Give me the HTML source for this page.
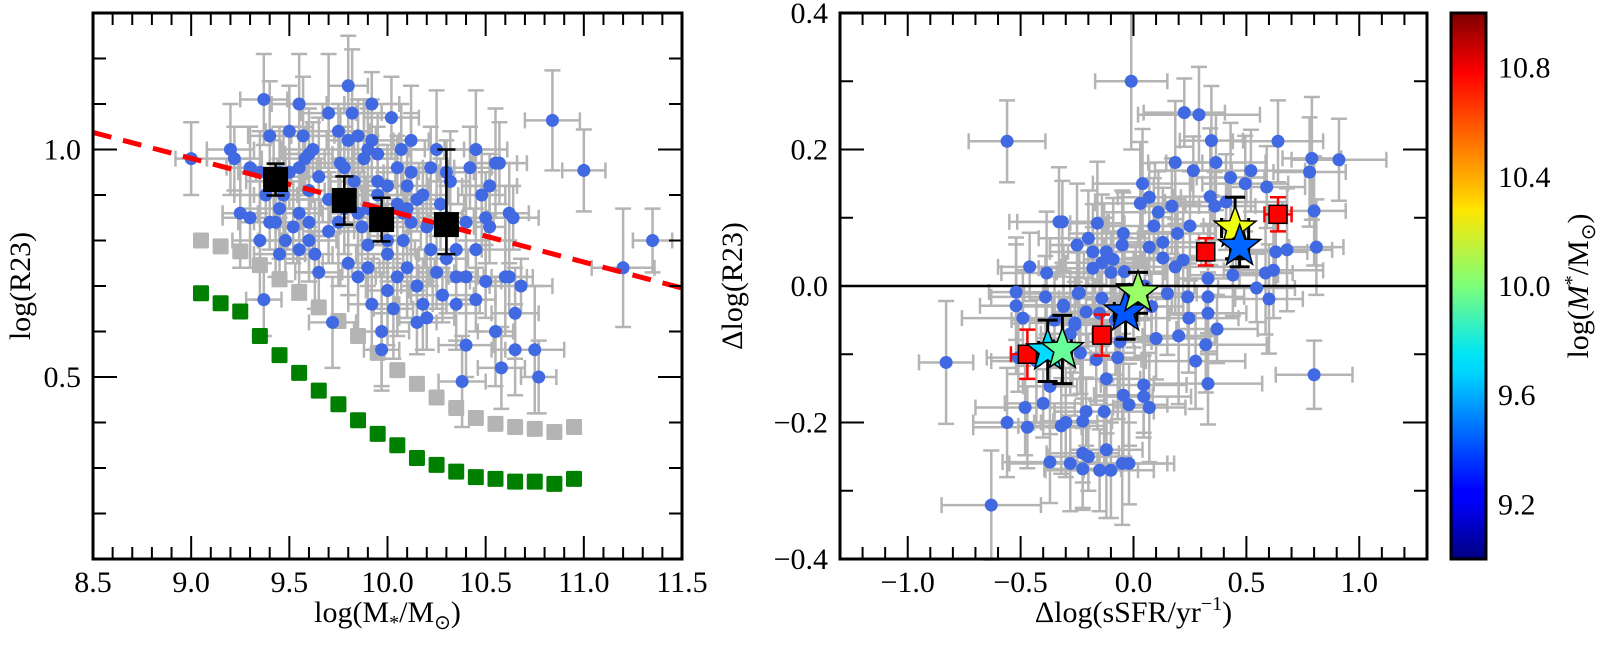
<!DOCTYPE html>
<html><head><meta charset="utf-8"><style>
html,body{margin:0;padding:0;background:#fff;}
svg{display:block;font-family:"Liberation Serif",serif;}
</style></head><body>
<svg id="fig" width="1600" height="651" viewBox="0 0 1600 651" xmlns="http://www.w3.org/2000/svg">
<defs>
<linearGradient id="jet" x1="0" y1="1" x2="0" y2="0">
<stop offset="0" stop-color="#00007f"/><stop offset="0.11" stop-color="#0000ff"/><stop offset="0.125" stop-color="#0000ff"/>
<stop offset="0.34" stop-color="#00d4ff"/><stop offset="0.375" stop-color="#00e5f5"/><stop offset="0.5" stop-color="#7dff7a"/>
<stop offset="0.64" stop-color="#ffe600"/><stop offset="0.66" stop-color="#ffd000"/><stop offset="0.89" stop-color="#ff0000"/><stop offset="1" stop-color="#7f0000"/>
</linearGradient>
</defs>
<g id="left"></g>
<g id="right"></g>
<g id="cbar"></g>
</svg>
<script>
// ---------- LEFT PANEL DATA ----------
const leftMass = [9.0,9.2,9.22,9.25,9.3,9.35,9.37,9.37,9.38,9.4,9.42,9.45,9.45,9.47,9.5,9.52,9.55,9.55,9.57,9.58,9.6,9.55,9.6,9.63,9.65,9.65,9.7,9.72,9.75,9.76,9.78,9.8,9.8,9.82,9.83,9.85,9.85,9.87,9.88,9.9,9.9,9.92,9.92,9.95,9.95,9.97,9.97,9.98,10.0,10.0,10.02,10.03,10.05,10.05,10.07,10.08,10.1,10.1,10.12,10.15,10.15,10.18,10.2,10.2,10.22,10.25,10.25,10.27,10.28,10.3,10.3,10.32,10.35,10.35,10.38,10.4,10.4,10.42,10.45,10.45,10.5,10.5,10.52,10.55,10.58,10.6,10.62,10.65,10.68,10.55,10.57,10.62,10.64,10.75,10.65,10.77,10.84,11.0,11.2,11.35,10.52,10.48,10.3,10.12,9.9,9.7,9.5,9.45,9.4,9.43,9.48,9.55,9.7,9.75,9.78,9.8,9.95,10.0,10.05,10.15,10.22,10.35,10.4,9.85,9.9,10.12,10.3,9.6,9.62,9.8,9.92,10.08,10.18,10.45,10.1,10.0,9.3,9.35,9.6];
const leftR23 = [0.98,1.0,0.98,0.86,0.96,0.8,0.67,1.11,0.9,1.03,0.93,0.87,0.77,0.9,1.04,0.83,1.1,0.96,1.03,0.98,0.91,0.86,0.8,0.77,0.73,0.94,0.89,0.62,1.04,0.97,0.96,1.14,0.75,1.08,0.93,1.03,0.86,0.83,0.98,0.87,0.74,0.66,1.1,0.93,0.99,0.6,0.56,0.85,0.77,0.69,1.07,0.65,0.96,0.88,1.0,0.8,0.74,0.92,0.84,0.89,0.7,0.66,0.63,0.83,0.96,1.0,0.73,0.88,0.68,0.76,0.85,0.93,0.78,0.72,0.49,0.72,0.84,0.96,1.0,0.67,0.71,0.85,0.92,0.6,0.52,0.72,0.72,0.64,0.7,0.97,0.97,0.86,0.85,0.56,0.56,0.5,1.064,0.954,0.74,0.8,0.83,0.9,0.95,1.02,1.0,1.08,0.95,0.95,0.84,0.84,0.8,0.78,0.82,0.84,0.87,0.9,0.9,0.92,0.72,0.62,0.78,0.66,0.57,0.72,0.79,0.95,0.84,0.99,1.0,1.02,1.02,0.86,0.9,0.78,0.87,0.8,0.85,0.95,0.84];
const leftXErr = [0.08,0.12,0.14,0.09,0.12,0.14,0.09,0.12,0.16,0.11,0.14,0.1,0.13,0.15,0.12,0.09,0.14,0.11,0.16,0.1];
const leftYErr = [0.08,0.1,0.07,0.12,0.09,0.13,0.08,0.1,0.06,0.12,0.09,0.11,0.07,0.14,0.1,0.08,0.11,0.09,0.13,0.07];
const greyMass = [9.05,9.15,9.25,9.35,9.45,9.55,9.65,9.75,9.85,9.95,10.05,10.15,10.25,10.35,10.45,10.55,10.65,10.75,10.85,10.95];
const greyR23 = [0.80,0.787,0.776,0.746,0.715,0.687,0.653,0.623,0.59,0.553,0.515,0.485,0.455,0.432,0.41,0.397,0.39,0.386,0.379,0.39];
const greenMass = [9.05,9.15,9.25,9.35,9.45,9.55,9.65,9.75,9.85,9.95,10.05,10.15,10.25,10.35,10.45,10.55,10.65,10.75,10.85,10.95];
const greenR23 = [0.684,0.662,0.644,0.59,0.548,0.509,0.47,0.44,0.405,0.375,0.35,0.322,0.307,0.292,0.28,0.276,0.27,0.27,0.265,0.276];
const binMass = [9.43,9.78,9.97,10.30];
const binR23 = [0.934,0.888,0.846,0.835];
const binErrHi = [0.035,0.053,0.048,0.165];
const binErrLo = [0.035,0.053,0.048,0.065];
const fitIntercept = [1.033];
const fitSlope = [-0.114];
const fitPivot = [8.54];
const leftXTicks = ["8.5","9.0","9.5","10.0","10.5","11.0","11.5"];
const leftYTicks = ["0.5","1.0"];

// ---------- RIGHT PANEL DATA ----------
const dSSFR = [-0.56,-0.33,-0.46,-0.385,-0.52,-0.39,-0.52,-0.31,-0.49,-0.24,-0.26,-0.83,-0.48,-0.40,-0.56,-0.47,-0.32,-0.225,-0.37,-0.225,-0.225,-0.63,-0.51,-0.43,-0.37,-0.235,
 -0.01,0.225,0.29,0.345,0.64,0.185,0.365,0.265,0.43,0.52,0.495,0.79,0.91,0.78,0.59,0.04,0.07,0.03,0.17,0.11,0.34,0.36,0.41,0.80,-0.315,-0.16,0.09,0.195,0.25,-0.045,-0.18,-0.09,0.07,0.13,0.13,0.22,0.63,0.68,0.81,-0.18,-0.14,-0.04,0.185,0.33,0.44,0.585,0.62,0.545,0.60,-0.245,-0.14,0.15,0.24,0.33,0.33,0.245,-0.21,-0.31,-0.26,0.10,0.2,0.37,0.32,-0.06,-0.165,-0.07,0.275,0.80,-0.12,0.33,0.045,-0.045,0.045,0.07,-0.02,-0.13,-0.21,
 -0.05,-0.1,-0.15,-0.12,-0.2,-0.28,-0.3,-0.02,-0.25,-0.2,-0.12,-0.05,-0.1,-0.35,-0.28,-0.15,-0.08,0.0,0.05,0.08];
const dR23 = [0.212,0.094,0.028,0.019,-0.009,-0.016,-0.029,-0.028,-0.047,-0.01,-0.054,-0.112,-0.178,-0.172,-0.2,-0.207,-0.205,-0.198,-0.258,-0.245,-0.268,-0.321,-0.105,-0.11,-0.147,-0.098,
 0.30,0.254,0.251,0.213,0.212,0.181,0.181,0.169,0.159,0.169,0.15,0.187,0.185,0.167,0.145,0.15,0.13,0.121,0.117,0.108,0.131,0.117,0.123,0.11,0.094,0.092,0.088,0.077,0.088,0.077,0.05,0.039,0.057,0.064,0.041,0.038,0.05,0.053,0.057,0.026,0.034,0.021,0.028,0.011,0.016,0.019,0.023,-0.003,-0.019,-0.011,-0.018,-0.011,-0.016,-0.016,-0.04,-0.047,-0.038,-0.03,-0.057,-0.077,-0.073,-0.063,-0.086,-0.082,-0.108,-0.105,-0.11,-0.13,-0.136,-0.143,-0.145,-0.16,-0.162,-0.178,-0.174,-0.184,-0.184,
 -0.26,-0.27,-0.27,-0.24,-0.25,-0.26,-0.2,-0.26,0.06,0.07,0.05,0.06,0.02,-0.05,-0.07,-0.04,-0.05,-0.03,0.0,-0.03];
const rightXErr = [0.17,0.22,0.14,0.2,0.12,0.24,0.16,0.18,0.27,0.14,0.2,0.12,0.22,0.17,0.15,0.24,0.19,0.13,0.21,0.16];
const rightYErr = [0.06,0.08,0.05,0.09,0.07,0.06,0.1,0.05,0.07,0.08,0.06,0.09,0.07,0.05,0.08,0.06,0.07,0.09,0.06,0.08];
const sqX = [-0.47,-0.14,0.32,0.64];
const sqY = [-0.1,-0.072,0.05,0.105];
const sqXErr = [0.073,0.04,0.03,0.06];
const sqYErr = [0.036,0.03,0.02,0.025];
const starX = [-0.38,-0.315,-0.035,0.02,0.45,0.47];
const starY = [-0.095,-0.093,-0.038,-0.01,0.085,0.058];
const starMass = [9.68,9.95,9.42,10.05,10.22,9.45];
const starXErr = [0.04,0.04,0.05,0.04,0.06,0.04];
const starYErr = [0.045,0.05,0.04,0.03,0.045,0.03];
const rightXTicks = ["\u22121.0","\u22120.5","0.0","0.5","1.0"];
const rightYTicks = ["\u22120.4","\u22120.2","0.0","0.2","0.4"];
const cbarTicks = ["9.2","9.6","10.0","10.4","10.8"];

// ---------- helpers ----------
const NS="http://www.w3.org/2000/svg";
function mk(parent,tag,attrs){const e=document.createElementNS(NS,tag);for(const k in attrs)e.setAttribute(k,attrs[k]);parent.appendChild(e);return e;}
function jet(v){const t=Math.max(0,Math.min(1,(v-9.0)/2.0));
 const r=Math.max(0,Math.min(1,1.5-Math.abs(4*t-3))),g=Math.max(0,Math.min(1,1.5-Math.abs(4*t-2))),b=Math.max(0,Math.min(1,1.5-Math.abs(4*t-1)));
 return `rgb(${Math.round(r*255)},${Math.round(g*255)},${Math.round(b*255)})`;}
const GREY="#b4b4b4", BLUE="#4169e1";

function errbar(g,x,y0,y1,cap,color,w,horiz){
 if(!horiz){mk(g,'line',{x1:x,x2:x,y1:y0,y2:y1,stroke:color,'stroke-width':w});
  mk(g,'line',{x1:x-cap,x2:x+cap,y1:y0,y2:y0,stroke:color,'stroke-width':w});
  mk(g,'line',{x1:x-cap,x2:x+cap,y1:y1,y2:y1,stroke:color,'stroke-width':w});}
 else{mk(g,'line',{y1:x,y2:x,x1:y0,x2:y1,stroke:color,'stroke-width':w});
  mk(g,'line',{y1:x-cap,y2:x+cap,x1:y0,x2:y0,stroke:color,'stroke-width':w});
  mk(g,'line',{y1:x-cap,y2:x+cap,x1:y1,x2:y1,stroke:color,'stroke-width':w});}
}
function frameTicks(g,L,R,T,B,xs,xMinor,xMajor,ys,yMinor,yMajor){
 xMinor.forEach(v=>{const X=xs(v);const maj=xMajor.some(m=>Math.abs(m-v)<1e-6);const len=maj?23:12;
  mk(g,'line',{x1:X,x2:X,y1:B,y2:B-len,stroke:'#000','stroke-width':2});
  mk(g,'line',{x1:X,x2:X,y1:T,y2:T+len,stroke:'#000','stroke-width':2});});
 yMinor.forEach(v=>{const Y=ys(v);const maj=yMajor.some(m=>Math.abs(m-v)<1e-6);const len=maj?24:13;
  mk(g,'line',{x1:L,x2:L+len,y1:Y,y2:Y,stroke:'#000','stroke-width':2});
  mk(g,'line',{x1:R,x2:R-len,y1:Y,y2:Y,stroke:'#000','stroke-width':2});});
 const fr=mk(g,'rect',{x:L,y:T,width:R-L,height:B-T,fill:'none',stroke:'#000','stroke-width':3});
 
}
function range(a,b,s){const o=[];for(let v=a;v<=b+1e-9;v+=s)o.push(Math.round(v*1000)/1000);return o;}

// ---------- LEFT PANEL ----------
(function(){
 const g=document.getElementById('left');
 const L=93,R=682,T=13,B=559;
 const xs=v=>L+(v-8.5)/3.0*(R-L);
 const ys=v=>B-(v-0.1)/1.2*(B-T);
 const eg=mk(g,'g',{});
 leftMass.forEach((m,i)=>{const xe=leftXErr[i%leftXErr.length],ye=leftYErr[i%leftYErr.length];
  errbar(eg,xs(m),ys(leftR23[i]-ye),ys(leftR23[i]+ye),8,GREY,2.5,false);
  errbar(eg,ys(leftR23[i]),xs(m-xe),xs(m+xe),8,GREY,2.5,true);});
 const gs=mk(g,'g',{});
 greyMass.forEach((m,i)=>{const s=mk(gs,'rect',{x:xs(m)-8,y:ys(greyR23[i])-8,width:16,height:16,fill:'#b4b4b4',rx:1.5});
  });
 const gn=mk(g,'g',{});
 greenMass.forEach((m,i)=>{const s=mk(gn,'rect',{x:xs(m)-8,y:ys(greenR23[i])-8,width:16,height:16,fill:'#008000',rx:1.5});
  });
 const pg=mk(g,'g',{});
 leftMass.forEach((m,i)=>{const c=mk(pg,'circle',{cx:xs(m),cy:ys(leftR23[i]),r:6.5,fill:BLUE});
  });
 const x0=8.5,x1=11.5;
 const ln=mk(g,'line',{x1:xs(x0),y1:ys(fitIntercept[0]+fitSlope[0]*(x0-fitPivot[0])),x2:xs(x1),y2:ys(fitIntercept[0]+fitSlope[0]*(x1-fitPivot[0])),stroke:'#ff0000','stroke-width':5,'stroke-dasharray':'19,12'});
 
 const bg=mk(g,'g',{});
 binMass.forEach((m,i)=>{errbar(bg,xs(m),ys(binR23[i]-binErrLo[i]),ys(binR23[i]+binErrHi[i]),9,'#000',2.5,false);
  const s=mk(bg,'rect',{x:xs(m)-12.5,y:ys(binR23[i])-12.5,width:25,height:25,fill:'#000'});
  });
 frameTicks(g,L,R,T,B,xs,range(8.5,11.5,0.1),[8.5,9,9.5,10,10.5,11,11.5],ys,range(0.1,1.3,0.1),[0.5,1.0]);
 leftXTicks.forEach(t=>{const e=mk(g,'text',{x:xs(parseFloat(t)),y:B+33,'font-size':30,'text-anchor':'middle'});e.textContent=t;
  });
 leftYTicks.forEach(t=>{const e=mk(g,'text',{x:L-12,y:ys(parseFloat(t))+10,'font-size':30,'text-anchor':'end'});e.textContent=t;
  });
 const xt=mk(g,'text',{x:(L+R)/2,y:622,'font-size':30,'text-anchor':'middle'});
 xt.innerHTML='log(M<tspan font-size="20" dy="7">*</tspan><tspan dy="-7">/M</tspan><tspan font-size="20" dy="7">\u2299</tspan><tspan dy="-7">)</tspan>';
 
 const yt=mk(g,'text',{x:0,y:0,'font-size':30,'text-anchor':'middle',transform:`translate(30,${(T+B)/2}) rotate(-90)`});yt.textContent='log(R23)';
 
})();

// ---------- RIGHT PANEL ----------
(function(){
 const g=document.getElementById('right');
 const L=840,R=1427,T=13,B=559;
 const xs=v=>L+(v+1.3)/2.6*(R-L);
 const ys=v=>B-(v+0.4)/0.8*(B-T);
 const eg=mk(g,'g',{});
 dSSFR.forEach((x,i)=>{const xe=rightXErr[i%rightXErr.length],ye=rightYErr[i%rightYErr.length];
  errbar(eg,xs(x),ys(dR23[i]-ye),ys(dR23[i]+ye),8,GREY,2.5,false);
  errbar(eg,ys(dR23[i]),xs(x-xe),xs(x+xe),8,GREY,2.5,true);});
 const zl=mk(g,'line',{x1:L,x2:R,y1:ys(0),y2:ys(0),stroke:'#000','stroke-width':2.5});
 
 const pg=mk(g,'g',{});
 dSSFR.forEach((x,i)=>{const c=mk(pg,'circle',{cx:xs(x),cy:ys(dR23[i]),r:6.5,fill:BLUE});
  });
 const sg=mk(g,'g',{});
 sqX.forEach((x,i)=>{errbar(sg,xs(x),ys(sqY[i]-sqYErr[i]),ys(sqY[i]+sqYErr[i]),8,'#ff0000',2.5,false);
  errbar(sg,ys(sqY[i]),xs(x-sqXErr[i]),xs(x+sqXErr[i]),8,'#ff0000',2.5,true);
  const s=mk(sg,'rect',{x:xs(x)-9,y:ys(sqY[i])-9,width:18,height:18,fill:'#ff0000',stroke:'#000','stroke-width':1.5});
  });
 const stg=mk(g,'g',{});
 starX.forEach((x,i)=>{errbar(stg,xs(x),ys(starY[i]-starYErr[i]),ys(starY[i]+starYErr[i]),10,'#000',3,false);
  errbar(stg,ys(starY[i]),xs(x-starXErr[i]),xs(x+starXErr[i]),10,'#000',3,true);});
 starX.forEach((x,i)=>{const cx=xs(x),cy=ys(starY[i]);let p=[];
  for(let k=0;k<10;k++){const r=k%2?9:22,a=-Math.PI/2+k*Math.PI/5;p.push((cx+r*Math.cos(a)).toFixed(1)+','+(cy+r*Math.sin(a)).toFixed(1));}
  const s=mk(stg,'polygon',{points:p.join(' '),fill:jet(starMass[i]),stroke:'#000','stroke-width':1.5});
  });
 frameTicks(g,L,R,T,B,xs,range(-1.3,1.3,0.1),[-1,-0.5,0,0.5,1],ys,range(-0.4,0.4,0.1),[-0.4,-0.2,0,0.2,0.4]);
 rightXTicks.forEach(t=>{const e=mk(g,'text',{x:xs(parseFloat(t.replace('\u2212','-'))),y:B+33,'font-size':30,'text-anchor':'middle'});e.textContent=t;
  });
 rightYTicks.forEach(t=>{const e=mk(g,'text',{x:L-12,y:ys(parseFloat(t.replace('\u2212','-')))+10,'font-size':30,'text-anchor':'end'});e.textContent=t;
  });
 const xt=mk(g,'text',{x:(L+R)/2,y:622,'font-size':30,'text-anchor':'middle'});
 xt.innerHTML='\u0394log(sSFR/yr<tspan font-size="20" dy="-12">\u22121</tspan><tspan dy="12">)</tspan>';
 
 const yt=mk(g,'text',{x:0,y:0,'font-size':30,'text-anchor':'middle',transform:`translate(742,${(T+B)/2}) rotate(-90)`});yt.textContent='\u0394log(R23)';
 
})();

// ---------- COLORBAR ----------
(function(){
 const g=document.getElementById('cbar');
 const L=1451,R=1486,T=13,B=559;
 const ys=v=>B-(v-9.0)/2.0*(B-T);
 const r=mk(g,'rect',{x:L,y:T,width:R-L,height:B-T,fill:'url(#jet)',stroke:'#000','stroke-width':3});
 
 cbarTicks.forEach(t=>{const e=mk(g,'text',{x:R+12,y:ys(parseFloat(t))+10,'font-size':30,'text-anchor':'start'});e.textContent=t;
  });
 const lt=mk(g,'text',{x:0,y:0,'font-size':30,'text-anchor':'middle',transform:`translate(1588,${(T+B)/2}) rotate(-90)`});
 lt.innerHTML='log(<tspan font-style="italic">M</tspan><tspan font-size="20" dy="-10">*</tspan><tspan dy="10">/M</tspan><tspan font-size="20" dy="7">\u2299</tspan><tspan dy="-7">)</tspan>';
 
})();
</script>
</body></html>
